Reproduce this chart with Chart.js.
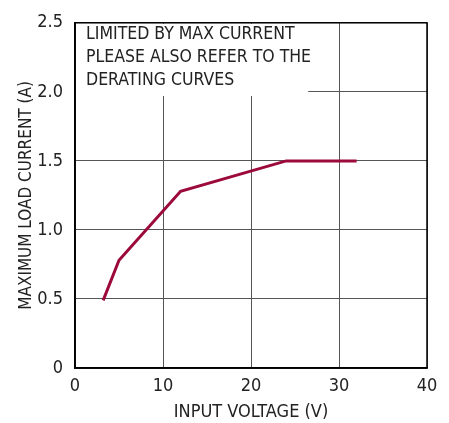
<!DOCTYPE html>
<html>
<head>
<meta charset="utf-8">
<script src="https://cdn.jsdelivr.net/npm/chart.js@4"></script>
<style>
  html, body { margin: 0; padding: 0; background: #ffffff; }
  #wrap { width: 449px; height: 423px; }
</style>
</head>
<body>
<div id="wrap"><canvas id="chart"></canvas></div>
<script>
// Max load current vs input voltage
const inputVoltage = [3.2, 5, 12, 24, 32];
const maxCurrent = [0.49, 0.78, 1.28, 1.5, 1.5];

const xTickLabels = ["0", "10", "20", "30", "40"];
const yTickLabels = ["0", "0.5", "1.0", "1.5", "2.0", "2.5"];
const noteLines = ["LIMITED BY MAX CURRENT", "PLEASE ALSO REFER TO THE", "DERATING CURVES"];

const FONT = "'Liberation Sans Narrow', 'DejaVu Sans Condensed', 'Arial Narrow', sans-serif";
const textColor = "#222222";
const gridColor = "#555555";
const lineColor = "#9c0a3c";

// white note box on top of the grid, then the black frame
const notePlugin = {
  id: "noteBox",
  beforeDatasetsDraw: function(chart) {
    const ctx = chart.ctx;
    const area = chart.chartArea;
    const x = chart.scales.x;
    const y = chart.scales.y;
    const right = x.getPixelForValue(26.5);
    const bottom = y.getPixelForValue(1.97);
    ctx.save();
    ctx.fillStyle = "#ffffff";
    ctx.fillRect(area.left + 1, area.top + 1, right - area.left - 1, bottom - area.top - 1);
    ctx.fillStyle = textColor;
    ctx.font = "17.5px " + FONT;
    ctx.textBaseline = "middle";
    for (let i = 0; i < noteLines.length; i++) {
      ctx.fillText(noteLines[i], area.left + 11, area.top + 12 + i * 23);
    }
    ctx.restore();
  },
  afterDraw: function(chart) {
    const ctx = chart.ctx;
    const a = chart.chartArea;
    ctx.save();
    ctx.strokeStyle = "#000000";
    ctx.lineWidth = 1.5;
    ctx.strokeRect(a.left, a.top, a.right - a.left, a.bottom - a.top);
    ctx.restore();
  }
};

const points = inputVoltage.map(function(v, i) { return { x: v, y: maxCurrent[i] }; });

new Chart(document.getElementById("chart").getContext("2d"), {
  type: "line",
  data: {
    datasets: [{
      data: points,
      borderColor: lineColor,
      borderWidth: 3,
      pointRadius: 0,
      tension: 0,
      fill: false
    }]
  },
  options: {
    responsive: true,
    maintainAspectRatio: false,
    animation: false,
    layout: { padding: { left: 0, right: 22, top: 16, bottom: 0 } },
    plugins: {
      legend: { display: false },
      tooltip: { enabled: false }
    },
    scales: {
      x: {
        type: "linear",
        min: 0,
        max: 40,
        afterFit: function(s) { s.height = 55; },
        grid: { color: gridColor, lineWidth: 1, drawTicks: false },
        border: { color: "#000000", width: 1.5 },
        ticks: {
          stepSize: 10,
          padding: 8,
          color: textColor,
          font: { family: FONT, size: 18 },
          callback: function(value, index) { return xTickLabels[index]; }
        },
        title: {
          display: true,
          text: "INPUT VOLTAGE (V)",
          color: textColor,
          font: { family: FONT, size: 18 },
          padding: { top: 0, bottom: 0 }
        }
      },
      y: {
        type: "linear",
        min: 0,
        max: 2.5,
        afterFit: function(s) { s.width = 75; },
        grid: { color: gridColor, lineWidth: 1, drawTicks: false },
        border: { color: "#000000", width: 1.5 },
        ticks: {
          stepSize: 0.5,
          padding: 12,
          color: textColor,
          font: { family: FONT, size: 18 },
          callback: function(value, index) { return yTickLabels[index]; }
        },
        title: {
          display: true,
          text: "MAXIMUM LOAD CURRENT (A)",
          color: textColor,
          font: { family: FONT, size: 17 },
          padding: { top: 16, bottom: 0 }
        }
      }
    }
  },
  plugins: [notePlugin]
});
</script>
</body>
</html>
